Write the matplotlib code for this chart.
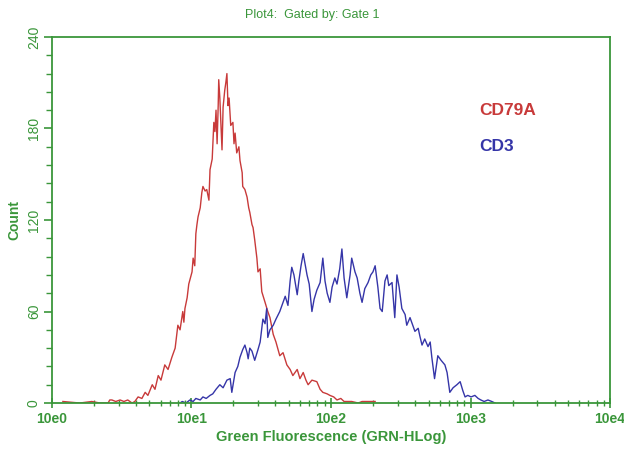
import numpy as np
import matplotlib.pyplot as plt
from matplotlib.ticker import FixedLocator, NullFormatter

plt.rcParams['font.family'] = ['Liberation Sans', 'DejaVu Sans']

# histogram data, log channels (256 channels per decade), counts per channel
red_channel = [20, 51, 73, 88, 103, 106, 110, 117, 125, 132, 139, 147, 152, 158, 165, 171, 176, 184,
               189, 195, 200, 207, 213, 220, 226, 231, 235, 240, 242, 244, 248, 251, 257, 259, 262,
               264, 266, 268, 272, 275, 277, 281, 284, 288, 290, 294, 297, 299, 301, 303, 305, 306,
               308, 312, 314, 317, 319, 321, 323, 325, 328, 332, 334, 336, 339, 343, 345, 349, 350,
               354, 358, 361, 363, 367, 369, 372, 376, 378, 382, 385, 391, 396, 400, 406, 411, 418,
               424, 431, 437, 442, 450, 455, 461, 466, 470, 477, 486, 492, 497, 505, 510, 517, 523,
               530, 536, 541, 550, 562, 569, 593]
red_count = [1, 0, 1, 0, 0, 2, 2, 1, 2, 1, 2, 0, 1, 4, 3, 7, 5, 12,
             9, 18, 15, 25, 22, 30, 36, 51, 48, 60, 53, 62, 69, 78, 86, 95, 90,
             111, 117, 122, 128, 138, 142, 139, 140, 133, 153, 160, 184, 178, 192, 170, 195, 212,
             200, 166, 194, 205, 210, 216, 195, 200, 182, 184, 170, 177, 164, 168, 159, 151, 142,
             140, 135, 128, 125, 117, 115, 107, 95, 86, 88, 73, 66, 60, 56, 45, 40, 31,
             33, 25, 22, 18, 22, 16, 20, 15, 12, 15, 14, 9, 7, 6, 5, 4, 2,
             3, 1, 1, 1, 0, 1, 1]

blue_channel = [235, 239, 246, 253, 259, 264, 272, 277, 283, 290, 295, 301, 308, 314, 321, 327, 330,
                336, 341, 345, 350, 354, 358, 360, 363, 367, 372, 378, 382, 387, 391, 394, 396, 400,
                406, 411, 418, 424, 428, 433, 437, 440, 444, 450, 453, 457, 461, 464, 468, 472, 477,
                481, 486, 492, 497, 501, 505, 510, 514, 519, 523, 528, 532, 536, 541, 547, 550, 556,
                560, 565, 569, 574, 580, 585, 589, 593, 598, 602, 606, 611, 615, 618, 624, 629, 633,
                637, 642, 648, 651, 657, 661, 666, 672, 675, 679, 684, 690, 694, 697, 702, 706, 708,
                714, 721, 725, 730, 736, 743, 749, 754, 758, 763, 769, 776, 782, 787, 793, 800, 807, 813]
blue_count = [0, 1, 0, 2, 1, 3, 2, 4, 3, 5, 6, 9, 12, 10, 15, 16, 7,
              20, 24, 30, 35, 38, 33, 29, 36, 34, 28, 35, 40, 55, 52, 62, 43, 48,
              51, 55, 60, 66, 70, 64, 80, 89, 84, 71, 80, 90, 98, 92, 84, 78, 60,
              68, 74, 79, 95, 80, 72, 66, 76, 82, 78, 88, 101, 82, 69, 84, 95, 86,
              82, 72, 66, 75, 79, 84, 86, 90, 76, 62, 60, 80, 84, 77, 79, 56, 84,
              76, 62, 58, 51, 56, 52, 47, 49, 44, 38, 42, 37, 40, 30, 16, 26, 31,
              28, 25, 20, 7, 10, 12, 14, 8, 4, 5, 4, 5, 3, 2, 1, 2, 1, 0]

green = '#3a963a'
fig = plt.figure(figsize=(6.24, 4.5), dpi=100)
ax = fig.add_axes([0.0833, 0.1044, 0.8943, 0.8134])

ax.plot(10 ** (np.array(red_channel) / 256), red_count, color='#c83a3a', lw=1.0)
ax.plot(10 ** (np.array(blue_channel) / 256), blue_count, color='#3535a8', lw=1.0)

ax.set_xscale('log')
ax.set_xlim(1, 1e4)
ax.set_ylim(0, 240)

for s in ax.spines.values():
    s.set_color(green)
    s.set_linewidth(1.3)

ax.xaxis.set_major_locator(FixedLocator([1, 10, 100, 1000, 10000]))
ax.xaxis.set_minor_locator(FixedLocator([m * 10 ** d for d in range(4) for m in range(2, 10)]))
ax.xaxis.set_minor_formatter(NullFormatter())
ax.set_xticklabels(['10e0', '10e1', '10e2', '10e3', '10e4'])
ax.set_yticks([0, 60, 120, 180, 240])
ax.yaxis.set_minor_locator(FixedLocator(np.arange(0, 241, 12)))

ax.tick_params(axis='x', which='major', direction='inout', length=7, color=green, width=1.2,
               labelcolor=green, labelsize=10, pad=3)
ax.tick_params(axis='x', which='minor', direction='inout', length=4, color=green, width=1.0)
ax.tick_params(axis='y', which='major', direction='out', length=6, color=green, width=1.2,
               labelcolor=green, labelsize=10, pad=2)
ax.tick_params(axis='y', which='minor', direction='out', length=4, color=green, width=1.0)
for lab in ax.get_xticklabels():
    lab.set_fontweight('bold')
for lab in ax.get_yticklabels():
    lab.set_rotation(90)
    lab.set_va('center')

ax.set_xlabel('Green Fluorescence (GRN-HLog)', color=green, fontsize=10.5, fontweight='bold',
              labelpad=3)
ax.set_ylabel('Count', color=green, fontsize=10, fontweight='bold', labelpad=4)
fig.text(0.5, 0.966, 'Plot4:  Gated by: Gate 1', color=green, fontsize=9, ha='center',
         va='center')

ax.text(0.765, 0.80, 'CD79A', transform=ax.transAxes, color='#c83a3a', fontsize=12.5,
        fontweight='bold', va='center')
ax.text(0.765, 0.70, 'CD3', transform=ax.transAxes, color='#3535a8', fontsize=12.5,
        fontweight='bold', va='center')

fig.savefig('out.png', dpi=100)
